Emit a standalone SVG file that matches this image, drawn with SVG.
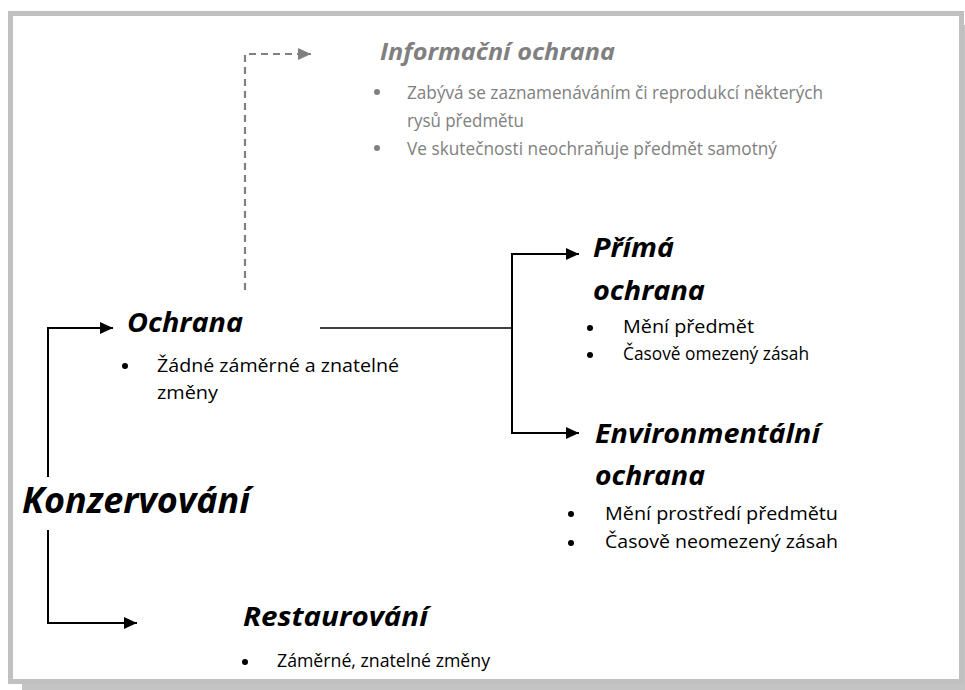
<svg xmlns="http://www.w3.org/2000/svg" width="965" height="690" viewBox="0 0 965 690">
<defs>
<marker id="ah" markerUnits="userSpaceOnUse" markerWidth="14" markerHeight="12" refX="13" refY="6" orient="auto"><path d="M0,0 L13,6 L0,12 Z" fill="#000"/></marker>
<marker id="ahg" markerUnits="userSpaceOnUse" markerWidth="14" markerHeight="12" refX="13" refY="6" orient="auto"><path d="M0,0 L13,6 L0,12 Z" fill="#808080"/></marker>
</defs>
<style>
.h{font-family:"Open Sans","Liberation Sans",sans-serif;font-weight:bold;font-style:italic;fill:#000}
.b{font-family:"Open Sans","Liberation Sans",sans-serif;font-size:17.5px;fill:#000}
.g{fill:#808080}
.ln{fill:none;stroke:#000;stroke-width:2}
</style>
<rect x="0" y="0" width="965" height="690" fill="#fff"/>
<rect x="22" y="684" width="943" height="6" fill="#c4c4c4"/>
<rect x="962" y="25" width="3" height="665" fill="#c4c4c4"/>
<rect x="10.5" y="13.5" width="951" height="668" fill="none" stroke="#c0c0c0" stroke-width="5"/>
<g id="connectors">
<path class="ln" d="M48,477 V328 H113" marker-end="url(#ah)"/>
<path class="ln" d="M48,530 V623 H137" marker-end="url(#ah)"/>
<path d="M320,328 H512" fill="none" stroke="#000" stroke-width="1.5"/>
<path class="ln" d="M579,254 H512 V433 H579" marker-end="url(#ah)" marker-start="none"/>
<path class="ln" d="M512,254 H579" marker-end="url(#ah)"/>
<path d="M245,290 V54 H311" fill="none" stroke="#808080" stroke-width="2.2" stroke-dasharray="7,5" marker-end="url(#ahg)"/>
</g>
<g id="konzervovani"><text class="h" x="22" y="513" font-size="36" textLength="228" lengthAdjust="spacingAndGlyphs">Konzervování</text></g>
<g id="ochrana">
<text class="h" x="127" y="332" font-size="26.5" textLength="116" lengthAdjust="spacingAndGlyphs">Ochrana</text>
<circle cx="125" cy="366" r="3"/>
<text class="b" x="157" y="372" textLength="242" lengthAdjust="spacingAndGlyphs">Žádné záměrné a znatelné</text>
<text class="b" x="157" y="399" textLength="61" lengthAdjust="spacingAndGlyphs">změny</text>
</g>
<g id="informacni">
<text class="h g" x="380" y="60" font-size="24" textLength="235" lengthAdjust="spacingAndGlyphs">Informační ochrana</text>
<circle cx="377" cy="92" r="3" fill="#808080"/>
<text class="b g" x="407" y="99" textLength="416" lengthAdjust="spacingAndGlyphs">Zabývá se zaznamenáváním či reprodukcí některých</text>
<text class="b g" x="407" y="127" textLength="117" lengthAdjust="spacingAndGlyphs">rysů předmětu</text>
<circle cx="377" cy="148" r="3" fill="#808080"/>
<text class="b g" x="407" y="155" textLength="370" lengthAdjust="spacingAndGlyphs">Ve skutečnosti neochraňuje předmět samotný</text>
</g>
<g id="prima">
<text class="h" x="593" y="257" font-size="27" textLength="81" lengthAdjust="spacingAndGlyphs">Přímá</text>
<text class="h" x="593" y="300" font-size="27" textLength="112" lengthAdjust="spacingAndGlyphs">ochrana</text>
<circle cx="590" cy="328" r="3"/>
<text class="b" x="623" y="333" textLength="131" lengthAdjust="spacingAndGlyphs">Mění předmět</text>
<circle cx="590" cy="355" r="3"/>
<text class="b" x="623" y="360" textLength="186" lengthAdjust="spacingAndGlyphs">Časově omezený zásah</text>
</g>
<g id="environmentalni">
<text class="h" x="595" y="443" font-size="27" textLength="225" lengthAdjust="spacingAndGlyphs">Environmentální</text>
<text class="h" x="595" y="485" font-size="27" textLength="110" lengthAdjust="spacingAndGlyphs">ochrana</text>
<circle cx="571" cy="514" r="3"/>
<text class="b" x="605" y="520" textLength="233" lengthAdjust="spacingAndGlyphs">Mění prostředí předmětu</text>
<circle cx="571" cy="543" r="3"/>
<text class="b" x="605" y="548" textLength="233" lengthAdjust="spacingAndGlyphs">Časově neomezený zásah</text>
</g>
<g id="restaurovani">
<text class="h" x="243" y="626" font-size="27" textLength="185" lengthAdjust="spacingAndGlyphs">Restaurování</text>
<circle cx="245" cy="662" r="3"/>
<text class="b" x="277" y="667" textLength="213" lengthAdjust="spacingAndGlyphs">Záměrné, znatelné změny</text>
</g>
</svg>
